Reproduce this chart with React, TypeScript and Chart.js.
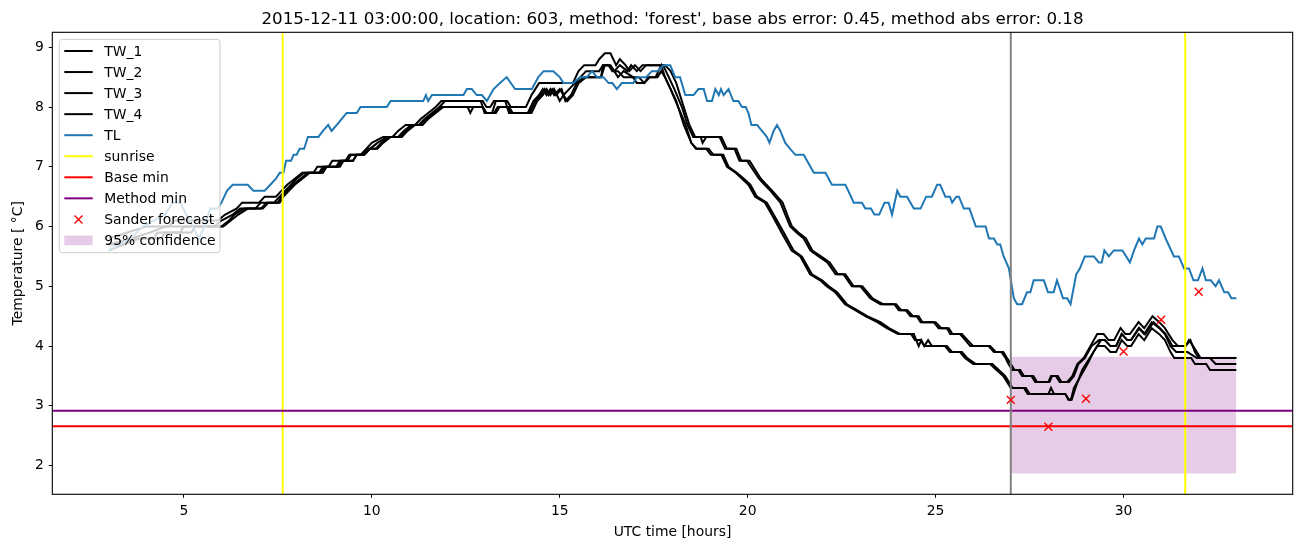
import React, { useEffect, useRef } from "react";
import { Chart, registerables } from "chart.js";

Chart.register(...registerables);

const FONT = "'DejaVu Sans', sans-serif";
const TITLE =
  "2015-12-11 03:00:00, location: 603, method: 'forest', base abs error: 0.45, method abs error: 0.18";
const X_LABEL = "UTC time [hours]";
const Y_LABEL = "Temperature [ \u00B0C]";

const X_MIN = 1.5;
const X_MAX = 34.5;
const Y_MIN = 1.52;
const Y_MAX = 9.25;
const xTickValues = [5, 10, 15, 20, 25, 30];
const yTickValues = [2, 3, 4, 5, 6, 7, 8, 9];

const TL_COLOR = "#1f77b4";
const CONF_COLOR = "rgba(128,0,128,0.2)";

// TL (air temperature)
const tlHours = [
  3.0, 3.3, 3.6, 3.9, 4.2, 4.5, 4.7, 4.9, 5.15, 5.4,
  5.55, 5.7, 5.9, 6.0, 6.15, 6.3, 6.7, 6.85, 7.15, 7.3,
  7.45, 7.55, 7.65, 7.72, 7.85, 7.92, 8.0, 8.08, 8.2, 8.3,
  8.58, 8.7, 8.84, 8.93, 9.07, 9.2, 9.33, 9.6, 9.7, 10.4,
  10.5, 11.37, 11.44, 11.5, 11.6, 12.44, 12.53, 12.66, 12.79, 12.93,
  13.06, 13.24, 13.41, 13.59, 13.81, 14.26, 14.43, 14.57, 14.83, 15.0,
  15.1, 15.36, 15.54, 15.72, 15.86, 15.99, 16.16, 16.3, 16.4, 16.52,
  16.65, 16.96, 17.05, 17.3, 17.45, 17.6, 17.76, 17.94, 18.07, 18.2,
  18.34, 18.56, 18.69, 18.83, 18.92, 19.05, 19.14, 19.23, 19.29, 19.36,
  19.49, 19.62, 19.75, 19.85, 19.95, 20.02, 20.1, 20.25, 20.38, 20.51,
  20.58, 20.69, 20.78, 20.87, 21.0, 21.13, 21.27, 21.49, 21.58, 21.76,
  22.07, 22.24, 22.6, 22.75, 22.82, 23.04, 23.13, 23.28, 23.37, 23.5,
  23.64, 23.75, 23.84, 23.98, 24.06, 24.24, 24.42, 24.6, 24.75, 24.9,
  25.04, 25.12, 25.26, 25.38, 25.44, 25.55, 25.62, 25.75, 25.9, 26.07,
  26.33, 26.42, 26.55, 26.64, 26.72, 26.81, 26.95, 27.08, 27.17, 27.3,
  27.43, 27.52, 27.61, 27.88, 27.99, 28.14, 28.23, 28.39, 28.5, 28.59,
  28.74, 28.84, 28.97, 29.21, 29.34, 29.42, 29.49, 29.61, 29.74, 29.97,
  30.17, 30.28, 30.41, 30.5, 30.59, 30.81, 30.9, 30.99, 31.12, 31.34,
  31.47, 31.61, 31.74, 31.86, 31.98, 32.1, 32.19, 32.32, 32.45, 32.54,
  32.68, 32.78, 32.87, 33.0,
];
const tlValues = [
  5.6, 5.7, 5.8, 6.0, 6.1, 6.2, 6.4, 6.4, 6.1, 5.8,
  6.0, 6.3, 6.3, 6.4, 6.6, 6.7, 6.7, 6.6, 6.6, 6.7,
  6.8, 6.9, 6.9, 7.1, 7.1, 7.2, 7.2, 7.3, 7.3, 7.5,
  7.5, 7.6, 7.7, 7.6, 7.7, 7.8, 7.9, 7.9, 8.0, 8.0,
  8.1, 8.1, 8.2, 8.1, 8.2, 8.2, 8.3, 8.3, 8.2, 8.2,
  8.1, 8.3, 8.4, 8.5, 8.3, 8.3, 8.5, 8.6, 8.6, 8.5,
  8.4, 8.4, 8.5, 8.5, 8.6, 8.5, 8.5, 8.4, 8.4, 8.3,
  8.4, 8.4, 8.5, 8.5, 8.6, 8.6, 8.7, 8.7, 8.5, 8.5,
  8.2, 8.2, 8.3, 8.3, 8.1, 8.1, 8.3, 8.2, 8.3, 8.2,
  8.3, 8.1, 8.1, 8.0, 8.0, 7.9, 7.7, 7.7, 7.6, 7.5,
  7.4, 7.6, 7.7, 7.6, 7.4, 7.3, 7.2, 7.2, 7.1, 6.9,
  6.9, 6.7, 6.7, 6.5, 6.4, 6.4, 6.3, 6.3, 6.2, 6.2,
  6.4, 6.4, 6.2, 6.6, 6.5, 6.5, 6.3, 6.3, 6.5, 6.5,
  6.7, 6.7, 6.5, 6.5, 6.4, 6.5, 6.5, 6.3, 6.3, 6.0,
  6.0, 5.8, 5.8, 5.7, 5.7, 5.5, 5.3, 4.8, 4.7, 4.7,
  4.9, 4.9, 5.1, 5.1, 4.9, 4.9, 5.1, 4.8, 4.8, 4.7,
  5.2, 5.3, 5.5, 5.5, 5.4, 5.4, 5.6, 5.5, 5.6, 5.6,
  5.4, 5.6, 5.8, 5.7, 5.8, 5.8, 6.0, 6.0, 5.8, 5.5,
  5.5, 5.3, 5.3, 5.1, 5.1, 5.3, 5.1, 5.1, 5.0, 5.1,
  4.9, 4.9, 4.8, 4.8,
];

// TW_1
const tw1Hours = [
  3.0, 3.5, 4.0, 4.6, 4.75, 5.9, 6.1, 6.4, 6.55, 7.0,
  7.15, 7.45, 7.6, 7.75, 7.95, 8.15, 8.45, 8.55, 8.85, 8.95,
  9.3, 9.4, 9.7, 9.85, 10.0, 10.3, 10.55, 10.7, 10.9, 11.15,
  11.3, 11.5, 11.7, 11.85, 12.95, 13.05, 13.15, 13.25, 13.6, 13.7,
  14.1, 14.25, 14.45, 15.35, 15.5, 15.65, 15.95, 16.05, 16.2, 16.35,
  16.5, 16.6, 16.75, 16.85, 17.0, 17.15, 17.3, 17.8, 17.95, 18.1,
  18.3, 18.45, 18.6, 19.25, 19.4, 19.65, 19.78, 19.98, 20.3, 20.45,
  20.6, 20.87, 21.0, 21.13, 21.3, 21.49, 21.67, 21.89, 22.12, 22.34,
  22.55, 22.77, 23.0, 23.26, 23.53, 23.9, 24.02, 24.2, 24.33, 24.5,
  24.6, 24.95, 25.08, 25.3, 25.39, 25.65, 25.79, 25.92, 26.41, 26.55,
  26.75, 26.86, 26.94, 27.04, 27.2, 27.3, 27.55, 27.65, 28.0, 28.07,
  28.2, 28.3, 28.5, 28.64, 28.77, 28.94, 29.12, 29.3, 29.47, 29.6,
  29.75, 29.92, 30.05, 30.17, 30.4, 30.55, 30.77, 30.95, 31.1, 31.3,
  31.45, 31.65, 31.74, 31.85, 31.95, 32.05, 33.0,
];
const tw1Values = [
  5.8, 5.9, 6.0, 6.0, 6.1, 6.1, 6.2, 6.3, 6.4, 6.4,
  6.5, 6.5, 6.6, 6.7, 6.8, 6.9, 6.9, 7.0, 7.0, 7.1,
  7.1, 7.2, 7.2, 7.3, 7.4, 7.5, 7.5, 7.6, 7.7, 7.7,
  7.8, 7.9, 8.0, 8.1, 8.1, 8.0, 8.0, 8.1, 8.1, 8.0,
  8.0, 8.2, 8.4, 8.4, 8.6, 8.7, 8.7, 8.8, 8.9, 8.9,
  8.7, 8.8, 8.7, 8.6, 8.7, 8.6, 8.7, 8.7, 8.6, 8.4,
  8.0, 7.7, 7.5, 7.5, 7.3, 7.3, 7.1, 7.1, 6.8, 6.7,
  6.6, 6.4, 6.2, 6.0, 5.9, 5.8, 5.6, 5.5, 5.4, 5.2,
  5.2, 5.0, 5.0, 4.8, 4.7, 4.7, 4.6, 4.6, 4.5, 4.5,
  4.4, 4.4, 4.3, 4.3, 4.2, 4.2, 4.1, 4.0, 4.0, 3.9,
  3.9, 3.8, 3.7, 3.6, 3.6, 3.5, 3.5, 3.4, 3.4, 3.5,
  3.5, 3.4, 3.4, 3.5, 3.7, 3.8, 4.0, 4.2, 4.2, 4.1,
  4.1, 4.3, 4.2, 4.2, 4.4, 4.3, 4.5, 4.4, 4.3, 4.1,
  4.0, 4.0, 4.1, 4.0, 3.9, 3.8, 3.8,
];

// TW_2
const tw2Hours = [
  3.0, 3.6, 4.1, 4.5, 5.8, 6.0, 6.3, 6.5, 6.9, 7.05,
  7.4, 7.55, 7.7, 7.85, 8.0, 8.2, 8.6, 8.7, 9.05, 9.15,
  9.5, 9.6, 9.8, 9.95, 10.15, 10.4, 10.7, 10.85, 11.05, 11.25,
  11.4, 11.6, 11.8, 11.95, 12.9, 13.0, 13.2, 13.3, 13.55, 13.65,
  14.15, 14.3, 14.45, 14.55, 14.65, 14.75, 14.85, 15.0, 15.1, 15.25,
  15.4, 15.55, 15.7, 16.05, 16.15, 16.3, 16.45, 16.6, 16.8, 16.9,
  17.05, 17.2, 17.75, 17.9, 18.05, 18.25, 18.4, 18.55, 18.75, 18.8,
  18.9, 19.3, 19.45, 19.7, 19.83, 20.05, 20.35, 20.5, 20.65, 20.93,
  21.05, 21.18, 21.35, 21.55, 21.72, 21.95, 22.18, 22.4, 22.6, 22.82,
  23.05, 23.32, 23.6, 23.95, 24.08, 24.25, 24.4, 24.55, 24.65, 25.0,
  25.15, 25.35, 25.45, 25.7, 25.85, 26.0, 26.45, 26.6, 26.8, 26.9,
  27.0, 27.1, 27.25, 27.35, 27.6, 27.7, 28.03, 28.1, 28.25, 28.35,
  28.55, 28.68, 28.8, 28.97, 29.15, 29.35, 29.5, 29.65, 29.8, 29.95,
  30.1, 30.2, 30.42, 30.58, 30.8, 30.97, 31.12, 31.3, 31.45, 31.65,
  31.78, 31.9, 32.0, 33.0,
];
const tw2Values = [
  5.7, 5.8, 5.9, 6.0, 6.0, 6.1, 6.2, 6.3, 6.3, 6.4,
  6.4, 6.5, 6.6, 6.7, 6.8, 6.9, 6.9, 7.0, 7.0, 7.1,
  7.1, 7.2, 7.2, 7.3, 7.4, 7.5, 7.5, 7.6, 7.7, 7.7,
  7.8, 7.9, 8.0, 8.1, 8.1, 7.9, 7.9, 8.1, 8.1, 7.9,
  7.9, 8.1, 8.2, 8.3, 8.2, 8.3, 8.2, 8.3, 8.2, 8.3,
  8.4, 8.5, 8.6, 8.6, 8.7, 8.7, 8.6, 8.7, 8.6, 8.7,
  8.6, 8.7, 8.7, 8.5, 8.3, 8.0, 7.7, 7.5, 7.5, 7.4,
  7.5, 7.5, 7.3, 7.3, 7.1, 7.1, 6.8, 6.7, 6.6, 6.4,
  6.2, 6.0, 5.9, 5.8, 5.6, 5.5, 5.4, 5.2, 5.2, 5.0,
  5.0, 4.8, 4.7, 4.7, 4.6, 4.6, 4.5, 4.5, 4.4, 4.4,
  4.3, 4.3, 4.2, 4.2, 4.1, 4.0, 4.0, 3.9, 3.9, 3.8,
  3.7, 3.6, 3.6, 3.5, 3.5, 3.4, 3.4, 3.5, 3.5, 3.4,
  3.4, 3.5, 3.7, 3.8, 4.0, 4.1, 4.1, 4.0, 4.0, 4.2,
  4.1, 4.1, 4.3, 4.2, 4.4, 4.3, 4.2, 4.0, 4.0, 4.0,
  4.1, 3.9, 3.8, 3.8,
];

// TW_3
const tw3Hours = [
  3.0, 3.3, 3.5, 4.2, 4.3, 4.9, 5.0, 6.0, 6.2, 6.35,
  6.6, 7.05, 7.2, 7.5, 7.6, 7.75, 7.9, 8.1, 8.3, 8.65,
  8.75, 9.1, 9.2, 9.35, 9.45, 9.75, 9.9, 10.1, 10.25, 10.45,
  10.75, 10.9, 11.1, 11.3, 11.45, 11.65, 11.85, 12.55, 12.62, 12.7,
  12.95, 13.05, 13.25, 13.35, 13.6, 13.7, 14.2, 14.35, 14.5, 14.6,
  14.7, 14.8, 14.9, 15.05, 15.15, 15.3, 15.45, 15.65, 16.1, 16.2,
  16.35, 16.45, 16.55, 16.7, 16.95, 17.1, 17.25, 17.4, 17.6, 17.7,
  17.8, 17.95, 18.15, 18.35, 18.5, 18.65, 18.96, 19.09, 19.35, 19.49,
  19.71, 19.9, 20.07, 20.25, 20.51, 20.69, 20.96, 21.22, 21.44, 21.71,
  21.98, 22.16, 22.38, 22.64, 22.91, 23.18, 23.53, 23.76, 24.06, 24.42,
  24.55, 24.62, 24.7, 24.8, 24.9, 25.3, 25.44, 25.7, 25.84, 26.07,
  26.51, 26.68, 26.85, 26.95, 27.05, 27.4, 27.5, 28.0, 28.07, 28.15,
  28.45, 28.53, 28.6, 28.68, 28.86, 29.04, 29.2, 29.4, 29.5, 29.65,
  29.8, 29.95, 30.1, 30.2, 30.4, 30.55, 30.75, 30.95, 31.1, 31.25,
  31.4, 31.7, 31.95, 32.3, 32.45, 33.0,
];
const tw3Values = [
  5.7, 5.7, 5.8, 5.8, 5.9, 5.9, 6.0, 6.0, 6.1, 6.2,
  6.3, 6.3, 6.4, 6.4, 6.5, 6.6, 6.7, 6.8, 6.9, 6.9,
  7.0, 7.0, 7.1, 7.1, 7.2, 7.2, 7.3, 7.3, 7.4, 7.5,
  7.5, 7.6, 7.7, 7.7, 7.8, 7.9, 8.0, 8.0, 7.9, 8.0,
  8.0, 7.9, 7.9, 8.0, 8.0, 7.9, 7.9, 8.1, 8.2, 8.3,
  8.2, 8.3, 8.2, 8.3, 8.1, 8.2, 8.4, 8.5, 8.5, 8.7,
  8.7, 8.6, 8.5, 8.6, 8.5, 8.5, 8.4, 8.5, 8.5, 8.6,
  8.5, 8.3, 8.0, 7.7, 7.4, 7.3, 7.3, 7.2, 7.2, 7.0,
  6.9, 6.8, 6.7, 6.5, 6.4, 6.2, 5.9, 5.6, 5.5, 5.2,
  5.1, 5.0, 4.9, 4.7, 4.6, 4.5, 4.4, 4.3, 4.2, 4.2,
  4.0, 4.1, 4.0, 4.1, 4.0, 4.0, 3.9, 3.9, 3.8, 3.7,
  3.7, 3.6, 3.5, 3.4, 3.3, 3.3, 3.2, 3.2, 3.3, 3.2,
  3.2, 3.1, 3.1, 3.3, 3.5, 3.7, 3.9, 4.1, 4.1, 4.0,
  4.0, 4.2, 4.1, 4.1, 4.3, 4.2, 4.4, 4.3, 4.2, 4.0,
  3.9, 3.9, 3.8, 3.8, 3.7, 3.7,
];

// TW_4
const tw4Hours = [
  3.0, 3.4, 3.8, 4.4, 4.5, 5.2, 5.3, 6.05, 6.25, 6.45,
  6.7, 7.1, 7.25, 7.55, 7.65, 7.8, 7.95, 8.15, 8.35, 8.7,
  8.8, 9.15, 9.25, 9.5, 9.6, 9.8, 9.95, 10.15, 10.3, 10.5,
  10.8, 10.95, 11.15, 11.35, 11.5, 11.7, 11.9, 12.95, 13.05, 13.3,
  13.4, 13.65, 13.75, 14.25, 14.4, 14.55, 14.65, 14.75, 14.85, 15.0,
  15.1, 15.2, 15.35, 15.5, 15.7, 16.1, 16.15, 16.3, 16.4, 16.55,
  16.7, 16.95, 17.05, 17.25, 17.35, 17.55, 17.7, 17.8, 17.95, 18.1,
  18.3, 18.5, 18.62, 18.9, 19.02, 19.3, 19.45, 19.68, 19.85, 20.02,
  20.2, 20.46, 20.64, 20.9, 21.17, 21.4, 21.66, 21.93, 22.1, 22.33,
  22.59, 22.86, 23.13, 23.45, 23.7, 24.0, 24.35, 24.45, 24.6, 24.7,
  25.25, 25.38, 25.65, 25.78, 26.0, 26.45, 26.62, 26.8, 26.9, 27.0,
  27.35, 27.45, 28.1, 28.45, 28.55, 28.62, 28.72, 28.9, 29.1, 29.3,
  29.5, 29.65, 29.8, 29.95, 30.1, 30.2, 30.4, 30.55, 30.75, 30.95,
  31.1, 31.25, 31.35, 31.8, 31.9, 32.2, 32.3, 33.0,
];
const tw4Values = [
  5.6, 5.7, 5.8, 5.8, 5.9, 5.9, 6.0, 6.0, 6.1, 6.2,
  6.3, 6.3, 6.4, 6.4, 6.5, 6.6, 6.7, 6.8, 6.9, 6.9,
  7.0, 7.0, 7.1, 7.1, 7.2, 7.2, 7.3, 7.3, 7.4, 7.5,
  7.5, 7.6, 7.7, 7.7, 7.8, 7.9, 8.0, 8.0, 7.9, 7.9,
  8.0, 8.0, 7.9, 7.9, 8.1, 8.2, 8.3, 8.2, 8.3, 8.1,
  8.2, 8.1, 8.2, 8.4, 8.5, 8.5, 8.7, 8.7, 8.6, 8.6,
  8.5, 8.5, 8.4, 8.4, 8.5, 8.5, 8.7, 8.5, 8.3, 8.1,
  7.7, 7.4, 7.3, 7.3, 7.2, 7.2, 7.0, 6.9, 6.8, 6.7,
  6.5, 6.4, 6.2, 5.9, 5.6, 5.5, 5.2, 5.1, 5.0, 4.9,
  4.7, 4.6, 4.5, 4.4, 4.3, 4.2, 4.2, 4.1, 4.1, 4.0,
  4.0, 3.9, 3.9, 3.8, 3.7, 3.7, 3.6, 3.5, 3.4, 3.3,
  3.3, 3.2, 3.2, 3.2, 3.1, 3.1, 3.3, 3.6, 3.8, 4.0,
  4.0, 3.9, 3.9, 4.1, 4.0, 4.0, 4.2, 4.1, 4.3, 4.2,
  4.1, 3.9, 3.8, 3.8, 3.7, 3.7, 3.6, 3.6,
];

const sunriseHours = [7.63, 31.64];
const forecastStartHour = 27;
const baseMin = 2.66;
const methodMin = 2.92;
const sanderHours = [27, 28, 29, 30, 31, 32];
const sanderValues = [3.1, 2.65, 3.12, 3.91, 4.44, 4.91];
const confidenceHours = [27, 33];
const confidenceUpper = [3.82, 3.82];
const confidenceLower = [1.87, 1.87];

const legendItems = [
  { label: "TW_1", kind: "line", color: "#000000" },
  { label: "TW_2", kind: "line", color: "#000000" },
  { label: "TW_3", kind: "line", color: "#000000" },
  { label: "TW_4", kind: "line", color: "#000000" },
  { label: "TL", kind: "line", color: TL_COLOR },
  { label: "sunrise", kind: "line", color: "#ffff00" },
  { label: "Base min", kind: "line", color: "#ff0000" },
  { label: "Method min", kind: "line", color: "#800080" },
  { label: "Sander forecast", kind: "marker", color: "#ff0000" },
  { label: "95% confidence", kind: "patch", color: CONF_COLOR },
];

function pts(xs: number[], ys: number[]) {
  return xs.map((x, i) => ({ x, y: ys[i] }));
}

function lineDs(label: string, xs: number[], ys: number[], color: string, order: number) {
  return {
    label,
    data: pts(xs, ys),
    borderColor: color,
    backgroundColor: color,
    borderWidth: 2,
    pointRadius: 0,
    fill: false,
    tension: 0,
    order,
  };
}

const decorPlugin = {
  id: "decor",
  afterDatasetsDraw(chart: any) {
    const { ctx, chartArea: a } = chart;
    ctx.save();
    // spines
    ctx.strokeStyle = "#000";
    ctx.lineWidth = 1.1;
    ctx.strokeRect(a.left, a.top, a.right - a.left, a.bottom - a.top);

    // legend
    const lx = a.left + 7;
    const ly = a.top + 7;
    const lw = 160.7;
    const lh = 213.4;
    const r = 3;
    ctx.beginPath();
    ctx.moveTo(lx + r, ly);
    ctx.lineTo(lx + lw - r, ly);
    ctx.quadraticCurveTo(lx + lw, ly, lx + lw, ly + r);
    ctx.lineTo(lx + lw, ly + lh - r);
    ctx.quadraticCurveTo(lx + lw, ly + lh, lx + lw - r, ly + lh);
    ctx.lineTo(lx + r, ly + lh);
    ctx.quadraticCurveTo(lx, ly + lh, lx, ly + lh - r);
    ctx.lineTo(lx, ly + r);
    ctx.quadraticCurveTo(lx, ly, lx + r, ly);
    ctx.closePath();
    ctx.fillStyle = "rgba(255,255,255,0.8)";
    ctx.fill();
    ctx.strokeStyle = "#cccccc";
    ctx.lineWidth = 1;
    ctx.stroke();

    ctx.font = `13.9px ${FONT}`;
    ctx.textAlign = "left";
    ctx.textBaseline = "alphabetic";
    legendItems.forEach((item, i) => {
      const cy = ly + 11.7 + i * 21.05;
      const hx0 = lx + 5;
      const hx1 = lx + 33.4;
      if (item.kind === "line") {
        ctx.strokeStyle = item.color;
        ctx.lineWidth = 2;
        ctx.beginPath();
        ctx.moveTo(hx0, cy);
        ctx.lineTo(hx1, cy);
        ctx.stroke();
      } else if (item.kind === "marker") {
        const cx = (hx0 + hx1) / 2;
        const s = 4;
        ctx.strokeStyle = item.color;
        ctx.lineWidth = 1.4;
        ctx.beginPath();
        ctx.moveTo(cx - s, cy - s);
        ctx.lineTo(cx + s, cy + s);
        ctx.moveTo(cx - s, cy + s);
        ctx.lineTo(cx + s, cy - s);
        ctx.stroke();
      } else {
        ctx.fillStyle = item.color;
        ctx.fillRect(hx0, cy - 4.9, hx1 - hx0, 9.7);
      }
      ctx.fillStyle = "#000";
      ctx.fillText(item.label, lx + 45, cy + 5);
    });
    ctx.restore();
  },
  afterDraw(chart: any) {
    const { ctx, chartArea: a } = chart;
    ctx.save();
    ctx.fillStyle = "#000";
    ctx.textAlign = "center";
    ctx.textBaseline = "alphabetic";
    ctx.font = `16.7px ${FONT}`;
    ctx.fillText(TITLE, (a.left + a.right) / 2, 24.3);
    ctx.font = `13.9px ${FONT}`;
    ctx.fillText(X_LABEL, (a.left + a.right) / 2, 535.5);
    ctx.translate(21.8, (a.top + a.bottom) / 2);
    ctx.rotate(-Math.PI / 2);
    ctx.fillText(Y_LABEL, 0, 0);
    ctx.restore();
  },
};

export default function App() {
  const ref = useRef<HTMLCanvasElement>(null);

  useEffect(() => {
    const canvas = ref.current;
    if (!canvas) return;

    const datasets: any[] = [
      {
        label: "95% confidence",
        data: pts(confidenceHours, confidenceUpper),
        borderWidth: 0,
        borderColor: "rgba(0,0,0,0)",
        backgroundColor: CONF_COLOR,
        pointRadius: 0,
        fill: "+1",
        order: 100,
      },
      {
        label: "confidence lower",
        data: pts(confidenceHours, confidenceLower),
        borderWidth: 0,
        borderColor: "rgba(0,0,0,0)",
        backgroundColor: CONF_COLOR,
        pointRadius: 0,
        fill: false,
        order: 101,
      },
      lineDs("TW_1", tw1Hours, tw1Values, "#000000", 90),
      lineDs("TW_2", tw2Hours, tw2Values, "#000000", 89),
      lineDs("TW_3", tw3Hours, tw3Values, "#000000", 88),
      lineDs("TW_4", tw4Hours, tw4Values, "#000000", 87),
      lineDs("TL", tlHours, tlValues, TL_COLOR, 80),
      ...sunriseHours.map((h) => lineDs("sunrise", [h, h], [Y_MIN, Y_MAX], "#ffff00", 70)),
      lineDs("Base min", [X_MIN, X_MAX], [baseMin, baseMin], "#ff0000", 60),
      lineDs("Method min", [X_MIN, X_MAX], [methodMin, methodMin], "#800080", 50),
      lineDs("forecast start", [forecastStartHour, forecastStartHour], [Y_MIN, Y_MAX], "#808080", 45),
      {
        label: "Sander forecast",
        data: pts(sanderHours, sanderValues),
        showLine: false,
        pointStyle: "crossRot",
        pointRadius: 5.6,
        pointBorderColor: "#ff0000",
        pointBackgroundColor: "rgba(0,0,0,0)",
        pointBorderWidth: 1.4,
        borderColor: "#ff0000",
        order: 40,
      },
    ];

    const tickFont = { family: FONT, size: 13.9 };

    const chart = new Chart(canvas, {
      type: "line",
      data: { datasets },
      options: {
        responsive: false,
        animation: false,
        devicePixelRatio: 1,
        events: [],
        layout: { padding: { top: 32.3, right: 9.3, left: 0, bottom: 0 } },
        plugins: {
          legend: { display: false },
          title: { display: false },
          tooltip: { enabled: false },
        },
        scales: {
          x: {
            type: "linear",
            min: X_MIN,
            max: X_MAX,
            afterBuildTicks: (s: any) => {
              s.ticks = xTickValues.map((v) => ({ value: v }));
            },
            afterFit: (s: any) => {
              s.height = 52.7;
            },
            ticks: {
              font: tickFont,
              color: "#000",
              padding: 5,
              maxRotation: 0,
              autoSkip: false,
              callback: (v: any) => String(v),
            },
            grid: {
              display: true,
              drawOnChartArea: false,
              drawTicks: true,
              tickLength: 3.5,
              color: "#000",
              lineWidth: 1,
            },
            border: { display: false },
          },
          y: {
            type: "linear",
            min: Y_MIN,
            max: Y_MAX,
            afterBuildTicks: (s: any) => {
              s.ticks = yTickValues.map((v) => ({ value: v }));
            },
            afterFit: (s: any) => {
              s.width = 52.3;
            },
            ticks: {
              font: tickFont,
              color: "#000",
              padding: 5,
              autoSkip: false,
              callback: (v: any) => String(v),
            },
            grid: {
              display: true,
              drawOnChartArea: false,
              drawTicks: true,
              tickLength: 3.5,
              color: "#000",
              lineWidth: 1,
            },
            border: { display: false },
          },
        },
      } as any,
      plugins: [decorPlugin],
    });

    return () => chart.destroy();
  }, []);

  return (
    <div style={{ position: "fixed", left: 0, top: 0, width: 1302, height: 547, background: "#fff" }}>
      <canvas ref={ref} width={1302} height={547} style={{ display: "block", width: 1302, height: 547 }} />
    </div>
  );
}
